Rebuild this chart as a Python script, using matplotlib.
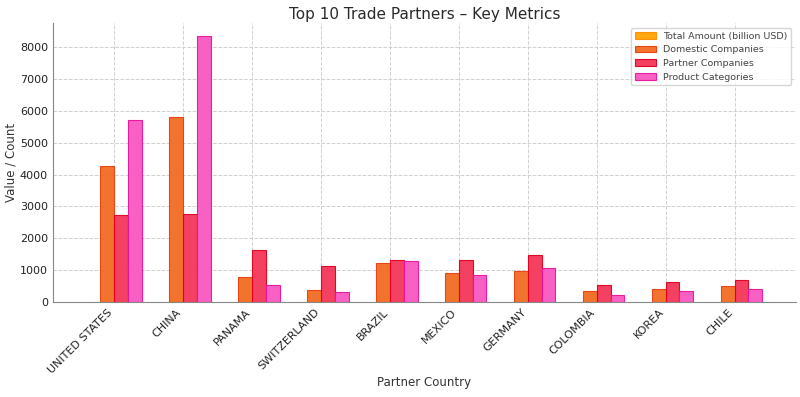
import matplotlib
matplotlib.use("Agg")
import matplotlib.pyplot as plt
import numpy as np

countries = ["UNITED STATES", "CHINA", "PANAMA", "SWITZERLAND", "BRAZIL",
             "MEXICO", "GERMANY", "COLOMBIA", "KOREA", "CHILE"]
total_amount = [1.2, 1.0, 0.4, 0.3, 0.3, 0.3, 0.2, 0.15, 0.15, 0.15]
domestic = [4270, 5800, 775, 377, 1237, 900, 975, 346, 399, 503]
partner = [2733, 2776, 1646, 1121, 1310, 1310, 1476, 546, 628, 691]
product = [5716, 8335, 546, 314, 1288, 838, 1068, 210, 358, 399]

series = [
    ("Total Amount (billion USD)", total_amount, "#FFA500", "none"),
    ("Domestic Companies", domestic, "#F26B21", "#E8400F"),
    ("Partner Companies", partner, "#F43558", "#E0001F"),
    ("Product Categories", product, "#F857C1", "#E8149F"),
]

fig, ax = plt.subplots(figsize=(8, 3.97), dpi=100)
x = np.arange(len(countries))
w = 0.2
for j, (name, vals, fc, ec) in enumerate(series):
    ax.bar(x + (j - 1.5) * w, vals, w, label=name, color=fc,
           edgecolor=(ec if ec != "none" else "#FF8C00"),
           linewidth=(0.8 if ec != "none" else 0.0), alpha=0.95)

ax.set_xticks(x)
ax.set_xticklabels(countries, rotation=45, ha="right", fontsize=8)
ax.tick_params(axis="y", labelsize=8)
ax.tick_params(axis="both", colors="#333333", length=0)
for lab in ax.get_xticklabels() + ax.get_yticklabels():
    lab.set_color("#222222")
ax.set_xlabel("Partner Country", fontsize=8.5, color="#333333", labelpad=1)
ax.set_ylabel("Value / Count", fontsize=8.5, color="#333333", labelpad=2)
ax.set_title("Top 10 Trade Partners – Key Metrics", fontsize=11, color="#2a2a2a", pad=3)
ax.grid(True, linestyle="--", color="#d0d0d0", linewidth=0.7)
ax.set_axisbelow(True)
for s in ["top", "right"]:
    ax.spines[s].set_visible(False)
for s in ["left", "bottom"]:
    ax.spines[s].set_color("#888888")
leg = ax.legend(fontsize=6.8, loc="upper right", frameon=True, handlelength=2.2)
for t in leg.get_texts():
    t.set_color("#444444")
leg.legend_handles[0].set_edgecolor("#FF8C00")
leg.legend_handles[0].set_linewidth(0.8)

fig.subplots_adjust(left=0.066, right=0.995, top=0.942, bottom=0.239)
fig.savefig("out.png", dpi=100)
